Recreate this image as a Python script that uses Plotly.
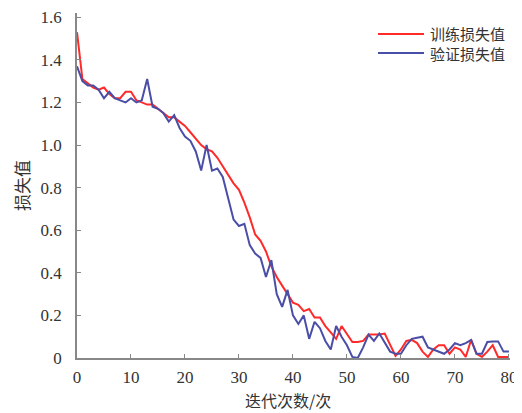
import plotly.graph_objects as go

epochs = list(range(81))

train_loss = [1.53, 1.31, 1.29, 1.27, 1.26, 1.27, 1.24, 1.22, 1.22, 1.25,
              1.25, 1.21, 1.20, 1.19, 1.19, 1.17, 1.15, 1.13, 1.13, 1.11,
              1.09, 1.06, 1.03, 1.00, 0.98, 0.97, 0.94, 0.90, 0.86, 0.82,
              0.79, 0.73, 0.66, 0.58, 0.55, 0.50, 0.43, 0.38, 0.34, 0.30,
              0.26, 0.25, 0.22, 0.23, 0.19, 0.19, 0.15, 0.12, 0.09, 0.15,
              0.11, 0.075, 0.075, 0.08, 0.11, 0.11, 0.11, 0.115, 0.06, 0.01,
              0.04, 0.08, 0.085, 0.07, 0.03, 0.005, 0.04, 0.06, 0.06, 0.02,
              0.05, 0.04, 0.005, 0.085, 0.02, 0.005, 0.03, 0.06, 0.005, 0.005,
              0.005]

val_loss = [1.37, 1.30, 1.28, 1.28, 1.26, 1.22, 1.25, 1.22, 1.21, 1.20,
            1.22, 1.20, 1.21, 1.31, 1.18, 1.17, 1.15, 1.11, 1.14, 1.08,
            1.04, 1.02, 0.97, 0.88, 1.00, 0.88, 0.89, 0.85, 0.75, 0.65,
            0.62, 0.63, 0.53, 0.49, 0.47, 0.38, 0.46, 0.30, 0.24, 0.32,
            0.20, 0.16, 0.20, 0.09, 0.17, 0.14, 0.08, 0.04, 0.15, 0.10,
            0.06, 0.005, 0.0, 0.05, 0.11, 0.08, 0.115, 0.07, 0.03, 0.02,
            0.02, 0.06, 0.09, 0.095, 0.10, 0.05, 0.04, 0.03, 0.02, 0.04,
            0.07, 0.06, 0.07, 0.085, 0.02, 0.02, 0.075, 0.078, 0.078, 0.03,
            0.03]

series_names = ["训练损失值", "验证损失值"]
series_colors = ["#ff2a2a", "#4a4ea6"]
x_title = "迭代次数/次"
y_title = "损失值"
x_ticks = [0, 10, 20, 30, 40, 50, 60, 70, 80]
y_ticks = [0, 0.2, 0.4, 0.6, 0.8, 1.0, 1.2, 1.4, 1.6]
y_tick_text = ["0", "0.2", "0.4", "0.6", "0.8", "1.0", "1.2", "1.4", "1.6"]

# the page body has an 8px margin, so the figure starts at (8, 8) in the window
OFF = 8
W, H = 522 - OFF, 413 - OFF
L, R, T, B = 77 - OFF, 12, 13 - OFF, 55
pw, ph = W - L - R, H - T - B

def px(xp):  # window pixel -> paper x
    return (xp - OFF - L) / pw

def py(yp):  # window pixel -> paper y
    return (H - B - (yp - OFF)) / ph

fig = go.Figure()
for name, ys, col in zip(series_names, [train_loss, val_loss], series_colors):
    fig.add_trace(go.Scatter(x=epochs, y=ys, mode="lines", name=name,
                             line=dict(color=col, width=2), showlegend=False,
                             cliponaxis=False))

tick_font = dict(family="Times New Roman, Liberation Serif, serif", size=17, color="#333333")
cjk = "Noto Sans CJK SC"

annotations = [
    dict(text=x_title, xref="paper", yref="paper", x=px(288), y=py(399.5),
         xanchor="center", yanchor="middle", showarrow=False,
         font=dict(family=cjk, size=16, color="#333333")),
    dict(text=y_title, xref="paper", yref="paper", x=px(21), y=py(185),
         xanchor="center", yanchor="middle", showarrow=False, textangle=-90,
         font=dict(family=cjk, size=17, color="#333333")),
    dict(text="<br>".join(series_names), xref="paper", yref="paper",
         x=px(428), y=py(43), xanchor="left", yanchor="middle", align="left",
         showarrow=False, font=dict(family=cjk, size=15, color="#333333")),
]
shapes = []
leg_rows = [34, 53]
for col, yr in zip(series_colors, leg_rows):
    shapes.append(dict(type="line", xref="paper", yref="paper",
                       x0=px(378), x1=px(424), y0=py(yr), y1=py(yr),
                       line=dict(color=col, width=2)))

fig.update_layout(
    width=W, height=H,
    margin=dict(l=L, r=R, t=T, b=B),
    paper_bgcolor="white", plot_bgcolor="white",
    showlegend=False,
    annotations=annotations, shapes=shapes,
    xaxis=dict(range=[0, 80.2], tickvals=x_ticks, ticks="inside", ticklen=4,
               tickcolor="#888888", showline=True, linecolor="#888888", linewidth=1.5,
               showgrid=False, zeroline=False, tickfont=tick_font, automargin=False,
               ticklabelstandoff=3, ticklabeloverflow="allow"),
    yaxis=dict(range=[0, 1.62], tickvals=y_ticks, ticktext=y_tick_text, ticks="inside",
               ticklen=4, tickcolor="#888888", showline=True, linecolor="#888888",
               linewidth=1.5, showgrid=False, zeroline=False, tickfont=tick_font,
               automargin=False, ticklabelstandoff=10),
)

fig.write_html("out.html")
